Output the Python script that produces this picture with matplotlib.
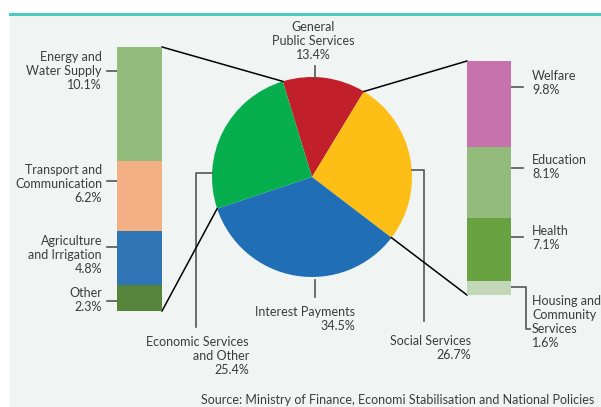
import numpy as np
import matplotlib.pyplot as plt

# pie: main spending categories (clockwise from the top)
pie_labels = ["General\nPublic Services\n13.4%", "Social Services\n26.7%",
              "Interest Payments\n34.5%", "Economic Services\nand Other\n25.4%"]
pie_values = [13.4, 26.7, 34.5, 25.4]
pie_colors = ["#C1202A", "#FDBE16", "#1F6EB6", "#06AE4E"]

# left bar: breakdown of Economic Services and Other (top to bottom)
econ_labels = ["Energy and\nWater Supply\n10.1%", "Transport and\nCommunication\n6.2%",
               "Agriculture\nand Irrigation\n4.8%", "Other\n2.3%"]
econ_values = [10.1, 6.2, 4.8, 2.3]
econ_colors = ["#93BB7C", "#F3B085", "#2F74B5", "#55843A"]

# right bar: breakdown of Social Services (top to bottom)
social_labels = ["Welfare\n9.8%", "Education\n8.1%", "Health\n7.1%",
                 "Housing and\nCommunity\nServices\n1.6%"]
social_values = [9.8, 8.1, 7.1, 1.6]
social_colors = ["#C672AD", "#93BB7C", "#68A241", "#C1D7B8"]

source = "Source: Ministry of Finance, Economi Stabilisation and National Policies"

W, H = 601, 407
TXT = "#3C3C3C"
GREY = "#555555"
plt.rcParams["font.family"] = ["Lato", "DejaVu Sans"]
FS = 9


def Y(y):
    return H - y


fig = plt.figure(figsize=(W / 100, H / 100), dpi=100)
ax = fig.add_axes([0, 0, 1, 1])

# background panel and teal rule
ax.add_patch(plt.Rectangle((10, 0), W - 10, Y(15), color="#F0F5F3", zorder=0))
ax.plot([10, W], [Y(14), Y(14)], color="#4DC9C1", lw=2.2, zorder=1)

# pie
cx, cy, r = 312, Y(177), 100
start = 107
ax.pie(pie_values, colors=pie_colors, startangle=start, counterclock=False,
       center=(cx, cy), radius=r, frame=True, wedgeprops=dict(linewidth=0))
bounds = start - 360 * np.cumsum([0] + pie_values) / sum(pie_values)


def edge(a):
    a = np.deg2rad(a)
    return cx + r * np.cos(a), cy + r * np.sin(a)


# stacked bars in their own axes
def stacked(x0, y0, x1, y1, vals, cols):
    bax = fig.add_axes([x0 / W, Y(y1) / H, (x1 - x0) / W, (y1 - y0) / H])
    vals = vals[::-1]
    cols = cols[::-1]
    bottom = np.concatenate([[0], np.cumsum(vals)[:-1]])
    bax.bar(0, vals, bottom=bottom, width=1, color=cols, linewidth=0)
    bax.set_xlim(-0.5, 0.5)
    bax.set_ylim(0, sum(vals))
    bax.axis("off")


stacked(117, 47, 162, 311, econ_values, econ_colors)
stacked(467, 61, 511, 295, social_values, social_colors)

# leader lines from bars to slice boundaries
for (bx, by), ang in [((162, 47), bounds[0]), ((162, 311), bounds[3]),
                      ((467, 61), bounds[1]), ((467, 295), bounds[2])]:
    ex, ey = edge(ang)
    ax.plot([bx, ex], [Y(by), ey], color="black", lw=1.1, zorder=5)

# left bar labels
for lab, ty, cy_txt in zip(econ_labels, [71, 181, 247, 301], [71, 184, 255, 300]):
    ax.plot([107, 117], [Y(ty), Y(ty)], color=GREY, lw=1.2)
    ax.text(102, Y(cy_txt), lab, ha="right", va="center", ma="right",
            fontsize=FS, color=TXT)

# right bar labels
for lab, ty, cy_txt in zip(social_labels[:3], [87, 168, 237], [83, 167, 238]):
    ax.plot([511, 523], [Y(ty), Y(ty)], color=GREY, lw=1.2)
    ax.text(532, Y(cy_txt), lab, ha="left", va="center", ma="left",
            fontsize=FS, color=TXT)
ax.plot([511, 526, 526, 530], [Y(287), Y(287), Y(329), Y(329)], color=GREY, lw=1.2)
ax.text(532, Y(322), social_labels[3], ha="left", va="center", ma="left",
        fontsize=FS, color=TXT)

# pie labels
ax.plot([315, 315], [Y(66), Y(78)], color=GREY, lw=1.2)
ax.text(313, Y(41), pie_labels[0], ha="center", va="center", ma="center",
        fontsize=FS, color=TXT)
ax.plot([315, 315], [Y(280), Y(297)], color=GREY, lw=1.2)
ax.text(355, Y(319), pie_labels[2], ha="right", va="center", ma="right",
        fontsize=FS, color=TXT)
ax.plot([212, 196, 196], [Y(173), Y(173), Y(327)], color=GREY, lw=1.2)
ax.text(249, Y(356), pie_labels[3], ha="right", va="center", ma="right",
        fontsize=FS, color=TXT)
ax.plot([412, 424, 424], [Y(170), Y(170), Y(321)], color=GREY, lw=1.2)
ax.text(471, Y(348), pie_labels[1], ha="right", va="center", ma="right",
        fontsize=FS, color=TXT)

ax.text(201, Y(400), source, ha="left", va="center", fontsize=FS, color=TXT)

ax.set_xlim(0, W)
ax.set_ylim(0, H)
ax.set_aspect("auto")
ax.axis("off")

fig.savefig("out.png", dpi=100)
